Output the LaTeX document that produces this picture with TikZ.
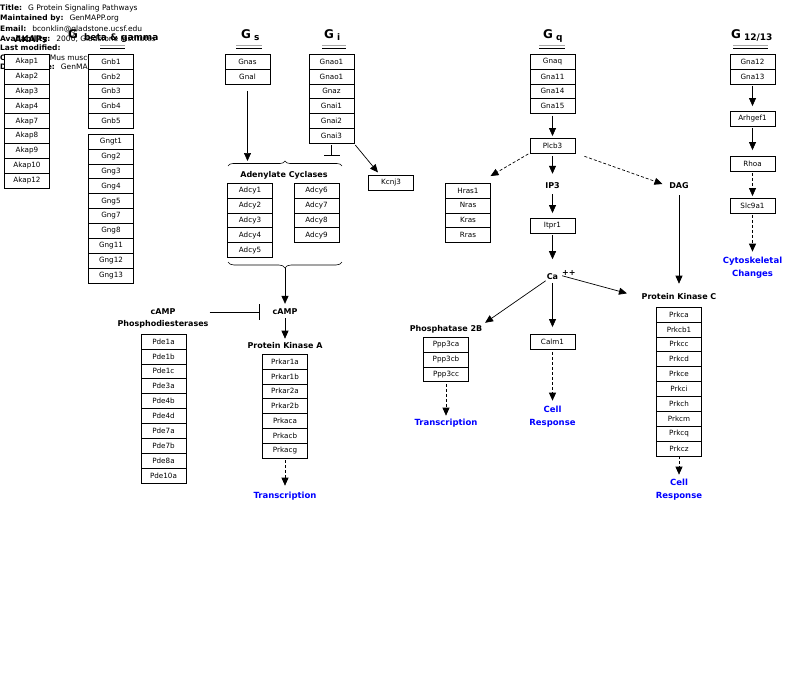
\documentclass[tikz,border=0pt]{standalone}
\usepackage{fontspec}
\setmainfont{DejaVu Sans}
\usetikzlibrary{arrows.meta,positioning,decorations.pathreplacing}

\newcommand{\glab}[2][3pt]{{\fontsize{12}{13}\selectfont\bfseries G}\hspace{#1}\raisebox{-2pt}{\fontsize{9}{10}\selectfont\bfseries #2}}

\begin{document}
\begin{tikzpicture}[x=1pt, y=-1pt, node distance=0pt,
  hdr/.style={anchor=base west, inner sep=0, font=\fontsize{7.5}{8}\selectfont},
  gene/.style={draw, fill=white, line width=0.6pt, outer sep=0, inner sep=0, minimum width=45pt, minimum height=14.9pt, font=\fontsize{7.2}{8}\selectfont},
  lbl/.style={inner sep=1pt, align=center, font=\fontsize{8}{13}\selectfont\bfseries},
  resp/.style={lbl, text=blue, font=\fontsize{8.5}{13}\selectfont\bfseries},
  glbl/.style={anchor=base west, inner sep=0},
  uline/.style={gray!70, line width=1pt},
  arr/.style={-{Triangle[length=8pt,width=7pt]}, line width=0.7pt},
  darr/.style={arr, dash pattern=on 3pt off 2pt},
  inh/.style={-{Bar[width=16pt]}, line width=0.7pt},
  acbrace/.style={decorate, decoration={brace, amplitude=5pt}, line width=0.6pt}]

\useasboundingbox (0,0) rectangle (800,683);

% header
\node[hdr] (title) at (0,10.5) {\textbf{Title:}\hspace{6pt}G Protein Signaling Pathways};
\node[hdr] (maint) at (0,20.5) {\textbf{Maintained by:}\hspace{6pt}GenMAPP.org};
\node[hdr] (email) at (0,31) {\textbf{Email:}\hspace{6pt}bconklin@gladstone.ucsf.edu};
\node[hdr] (avail) at (0,41) {\textbf{Availability:}\hspace{6pt}2000, Gladstone Institutes};
\node[hdr] (lastmod) at (0,50.5) {\textbf{Last modified:}};
\node[hdr] (organism) at (0,60.5) {\textbf{Organism:}\hspace{6pt}Mus musculus};
\node[hdr] (datasrc) at (0,69.5) {\textbf{Data Source:}\hspace{6pt}GenMAPP};

% AKAPs
\node[lbl, anchor=base, font=\fontsize{9}{10}\selectfont\bfseries] (akaplbl) at (31,42.5) {AKAPs};
\node[gene] (akap1) at (27,61.5) {Akap1};
\node[gene, below=of akap1] (akap2) {Akap2};
\node[gene, below=of akap2] (akap3) {Akap3};
\node[gene, below=of akap3] (akap4) {Akap4};
\node[gene, below=of akap4] (akap7) {Akap7};
\node[gene, below=of akap7] (akap8) {Akap8};
\node[gene, below=of akap8] (akap9) {Akap9};
\node[gene, below=of akap9] (akap10) {Akap10};
\node[gene, below=of akap10] (akap12) {Akap12};

% G beta & gamma
\node[glbl] (gbglbl) at (68,38.5) {\glab[6pt]{beta \& gamma}};
\draw[uline] (100,45) -- (125,45);
\draw[line width=0.5pt] (100,48) -- (125,48);
\node[gene] (gnb1) at (111,61.5) {Gnb1};
\node[gene, below=of gnb1] (gnb2) {Gnb2};
\node[gene, below=of gnb2] (gnb3) {Gnb3};
\node[gene, below=of gnb3] (gnb4) {Gnb4};
\node[gene, below=of gnb4] (gnb5) {Gnb5};
\node[gene] (gngt1) at (111,141.5) {Gngt1};
\node[gene, below=of gngt1] (gng2) {Gng2};
\node[gene, below=of gng2] (gng3) {Gng3};
\node[gene, below=of gng3] (gng4) {Gng4};
\node[gene, below=of gng4] (gng5) {Gng5};
\node[gene, below=of gng5] (gng7) {Gng7};
\node[gene, below=of gng7] (gng8) {Gng8};
\node[gene, below=of gng8] (gng11) {Gng11};
\node[gene, below=of gng11] (gng12) {Gng12};
\node[gene, below=of gng12] (gng13) {Gng13};

% G s
\node[glbl] (gslbl) at (241,38.5) {\glab{s}};
\draw[uline] (236,45) -- (262,45);
\draw[line width=0.5pt] (236,48) -- (262,48);
\node[gene] (gnas) at (247.5,61.5) {Gnas};
\node[gene, below=of gnas] (gnal) {Gnal};

% G i
\node[glbl] (gilbl) at (324,38.5) {\glab{i}};
\draw[uline] (322,45) -- (346,45);
\draw[line width=0.5pt] (322,48) -- (346,48);
\node[gene] (gnao1) at (331.5,61.5) {Gnao1};
\node[gene, below=of gnao1] (gnao1b) {Gnao1};
\node[gene, below=of gnao1b] (gnaz) {Gnaz};
\node[gene, below=of gnaz] (gnai1) {Gnai1};
\node[gene, below=of gnai1] (gnai2) {Gnai2};
\node[gene, below=of gnai2] (gnai3) {Gnai3};
\coordinate (gibar) at (331.5,156);
\node[gene] (kcnj3) at (391,183) {Kcnj3};

% adenylate cyclases
\draw[acbrace] (228,166) -- (342,166);
\coordinate (acin) at (247.5,161);
\node[lbl] (aclbl) at (284,175) {Adenylate Cyclases};
\node[gene] (adcy1) at (250,190.5) {Adcy1};
\node[gene, below=of adcy1] (adcy2) {Adcy2};
\node[gene, below=of adcy2] (adcy3) {Adcy3};
\node[gene, below=of adcy3] (adcy4) {Adcy4};
\node[gene, below=of adcy4] (adcy5) {Adcy5};
\node[gene] (adcy6) at (316.5,190.5) {Adcy6};
\node[gene, below=of adcy6] (adcy7) {Adcy7};
\node[gene, below=of adcy7] (adcy8) {Adcy8};
\node[gene, below=of adcy8] (adcy9) {Adcy9};
\draw[acbrace, decoration={amplitude=6pt}] (342,262) -- (228,262);
\coordinate (acout) at (285,268);

% cAMP, PDEs, PKA
\node[lbl] (camp) at (285,312) {cAMP};
\node[lbl] (pdecamp) at (163,312) {cAMP};
\node[lbl] (pdename) at (163,324) {Phosphodiesterases};
\node[gene] (pde1a) at (163.5,341.5) {Pde1a};
\node[gene, below=of pde1a] (pde1b) {Pde1b};
\node[gene, below=of pde1b] (pde1c) {Pde1c};
\node[gene, below=of pde1c] (pde3a) {Pde3a};
\node[gene, below=of pde3a] (pde4b) {Pde4b};
\node[gene, below=of pde4b] (pde4d) {Pde4d};
\node[gene, below=of pde4d] (pde7a) {Pde7a};
\node[gene, below=of pde7a] (pde7b) {Pde7b};
\node[gene, below=of pde7b] (pde8a) {Pde8a};
\node[gene, below=of pde8a] (pde10a) {Pde10a};
\node[lbl] (pkalbl) at (285,346) {Protein Kinase A};
\node[gene] (prkar1a) at (285,361.5) {Prkar1a};
\node[gene, below=of prkar1a] (prkar1b) {Prkar1b};
\node[gene, below=of prkar1b] (prkar2a) {Prkar2a};
\node[gene, below=of prkar2a] (prkar2b) {Prkar2b};
\node[gene, below=of prkar2b] (prkaca) {Prkaca};
\node[gene, below=of prkaca] (prkacb) {Prkacb};
\node[gene, below=of prkacb] (prkacg) {Prkacg};
\node[resp] (trpka) at (285,496) {Transcription};

% G q
\node[glbl] (gqlbl) at (543,38.5) {\glab{q}};
\draw[uline] (539,45) -- (565,45);
\draw[line width=0.5pt] (539,48) -- (565,48);
\node[gene] (gnaq) at (552.5,61.5) {Gnaq};
\node[gene, below=of gnaq] (gna11) {Gna11};
\node[gene, below=of gna11] (gna14) {Gna14};
\node[gene, below=of gna14] (gna15) {Gna15};
\node[gene] (plcb3) at (552.5,145.5) {Plcb3};
\node[gene] (hras1) at (468,190.5) {Hras1};
\node[gene, below=of hras1] (nras) {Nras};
\node[gene, below=of nras] (kras) {Kras};
\node[gene, below=of kras] (rras) {Rras};
\node[lbl] (ip3) at (552.5,186) {IP3};
\node[gene] (itpr1) at (552.5,225.5) {Itpr1};
\node[lbl] (ca) at (552.5,275) {Ca\rlap{\raisebox{4pt}{\hspace{4pt}++}}};
\node[lbl] (dag) at (679,186) {DAG};
\node[lbl] (ppplbl) at (446,329) {Phosphatase 2B};
\node[gene] (ppp3ca) at (446,344.5) {Ppp3ca};
\node[gene, below=of ppp3ca] (ppp3cb) {Ppp3cb};
\node[gene, below=of ppp3cb] (ppp3cc) {Ppp3cc};
\node[resp] (trppp) at (446,423) {Transcription};
\node[gene] (calm1) at (552.5,341.5) {Calm1};
\node[resp] (crcalm) at (552.5,416.5) {Cell\\Response};
\node[lbl] (pkclbl) at (679,297) {Protein Kinase C};
\node[gene] (prkca) at (679,314.5) {Prkca};
\node[gene, below=of prkca] (prkcb1) {Prkcb1};
\node[gene, below=of prkcb1] (prkcc) {Prkcc};
\node[gene, below=of prkcc] (prkcd) {Prkcd};
\node[gene, below=of prkcd] (prkce) {Prkce};
\node[gene, below=of prkce] (prkci) {Prkci};
\node[gene, below=of prkci] (prkch) {Prkch};
\node[gene, below=of prkch] (prkcm) {Prkcm};
\node[gene, below=of prkcm] (prkcq) {Prkcq};
\node[gene, below=of prkcq] (prkcz) {Prkcz};
\node[resp] (crpkc) at (679,489.5) {Cell\\Response};

% G 12/13
\node[glbl] (g1213lbl) at (731,38.5) {\glab{12/13}};
\draw[uline] (733,45) -- (768,45);
\draw[line width=0.5pt] (733,48) -- (768,48);
\node[gene] (gna12) at (752.5,61.5) {Gna12};
\node[gene, below=of gna12] (gna13) {Gna13};
\node[gene] (arhgef1) at (752.5,118.5) {Arhgef1};
\node[gene] (rhoa) at (752.5,163.5) {Rhoa};
\node[gene] (slc9a1) at (752.5,205.5) {Slc9a1};
\node[resp] (cyto) at (752.5,267.5) {Cytoskeletal\\Changes};

% connectors
\draw[arr, shorten <=7pt] (gnal) -- (acin);
\draw[inh, shorten <=2pt] (gnai3) -- (gibar);
\draw[arr, shorten <=2pt, shorten >=4pt] (gnai3.south east) -- ([xshift=12pt]kcnj3.north west);
\draw[arr, shorten >=4pt] (acout) -- (camp);
\draw[inh, shorten >=12pt] (pdename.east |- camp) -- (camp.west);
\draw[arr, shorten <=2pt, shorten >=3pt] (camp) -- (pkalbl);
\draw[darr, shorten <=2pt, shorten >=5pt] (prkacg) -- (trpka);
\draw[arr, shorten <=2pt, shorten >=2pt] (gna15) -- (plcb3);
\draw[arr, shorten <=3pt, shorten >=8pt] (plcb3) -- (ip3);
\draw[darr, shorten <=2pt] (plcb3.south west) -- ([yshift=7pt]hras1.north east);
\draw[darr, shorten <=10pt, shorten >=6pt] (plcb3.south east) -- (dag.west);
\draw[arr, shorten <=4pt, shorten >=5pt] (ip3) -- (itpr1);
\draw[arr, shorten <=2pt, shorten >=10pt] (itpr1) -- (ca);
\draw[arr, shorten >=2pt] (ca.south west) -- (ppplbl.north east);
\draw[arr, shorten <=2pt, shorten >=7pt] (ca) -- (calm1);
\draw[arr, shorten <=3pt, shorten >=14pt] (ca.east) -- (pkclbl.west);
\draw[arr, shorten <=5pt, shorten >=9pt] (dag) -- (pkclbl);
\draw[darr, shorten >=3pt] (prkcz) -- (crpkc);
\draw[darr, shorten <=2pt, shorten >=2pt] (ppp3cc) -- (trppp);
\draw[darr, shorten <=3pt, shorten >=4pt] (calm1) -- (crcalm);
\draw[arr, shorten <=2pt, shorten >=5pt] (gna13) -- (arhgef1);
\draw[arr, shorten <=2pt, shorten >=6pt] (arhgef1) -- (rhoa);
\draw[darr, shorten <=2pt, shorten >=2pt] (rhoa) -- (slc9a1);
\draw[darr, shorten <=2pt, shorten >=4pt] (slc9a1) -- (cyto);

\end{tikzpicture}
\end{document}
